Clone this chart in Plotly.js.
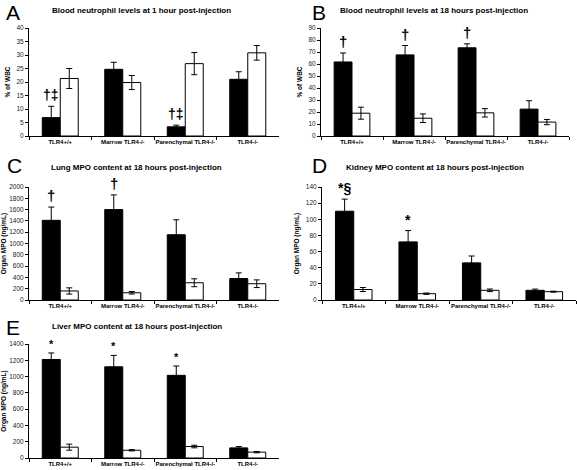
<!DOCTYPE html>
<html>
<head>
<meta charset="utf-8">
<script src="https://cdn.plot.ly/plotly-3.0.1.min.js"></script>
<style>html,body{margin:0;padding:0;background:#fff;}#chart{width:577px;height:470px;}</style>
</head>
<body>
<div id="chart"></div>
<script>
// ---- data ----
const categories = ["TLR4+/+", "Marrow TLR4-/-", "Parenchymal TLR4-/-", "TLR4-/-"];

const A_black = [6.8, 24.7, 3.4, 21.0];
const A_blackErr = [4.2, 2.6, 0.6, 2.8];
const A_white = [21.3, 19.8, 26.8, 30.8];
const A_whiteErr = [3.7, 2.6, 4.1, 2.7];
const A_marks = ["†‡", "", "†‡", ""];

const B_black = [61.7, 67.6, 73.5, 22.4];
const B_blackErr = [7.5, 7.8, 3.3, 7.0];
const B_white = [19.0, 14.8, 19.3, 11.6];
const B_whiteErr = [5.0, 3.6, 3.5, 2.2];
const B_marks = ["†", "†", "†", ""];

const C_black = [1410, 1600, 1155, 380];
const C_blackErr = [235, 260, 265, 100];
const C_white = [160, 128, 305, 288];
const C_whiteErr = [55, 22, 70, 68];
const C_marks = ["†", "†", "", ""];

const D_black = [110, 72, 46, 12];
const D_blackErr = [15, 14, 8.5, 1.5];
const D_white = [13, 7.8, 12, 10.3];
const D_whiteErr = [2.5, 0.8, 1.6, 0.6];
const D_marks = ["*§", "*", "", ""];

const E_black = [1210, 1120, 1015, 124];
const E_blackErr = [80, 140, 115, 17];
const E_white = [133, 95, 141, 72];
const E_whiteErr = [37, 8, 16, 8];
const E_marks = ["*", "*", "*", ""];

const panelLetters = ["A", "B", "C", "D", "E"];
const panelTitles = [
  "Blood neutrophil levels at 1 hour post-injection",
  "Blood neutrophil levels at 18 hours post-injection",
  "Lung MPO content at 18 hours post-injection",
  "Kidney MPO content at 18 hours post-injection",
  "Liver MPO content at 18 hours post-injection"
];
const yTitles = ["% of WBC", "% of WBC", "Organ MPO (ng/mL)", "Organ MPO (ng/mL)", "Organ MPO (ng/mL)"];
const yRanges = [[0, 40], [0, 90], [0, 2000], [0, 140], [0, 1400]];
const yDticks = [5, 10, 200, 20, 200];

// ---- build ----
const W = 577, H = 470;
const FONT = "Liberation Sans, Arial, sans-serif";
const panels = [
  {b: A_black, be: A_blackErr, w: A_white, we: A_whiteErr, m: A_marks, mk: 14},
  {b: B_black, be: B_blackErr, w: B_white, we: B_whiteErr, m: B_marks, mk: 15},
  {b: C_black, be: C_blackErr, w: C_white, we: C_whiteErr, m: C_marks, mk: 15},
  {b: D_black, be: D_blackErr, w: D_white, we: D_whiteErr, m: D_marks, mk: 14},
  {b: E_black, be: E_blackErr, w: E_white, we: E_whiteErr, m: E_marks, mk: 11}
];
// pixel boxes [x0, x1, yTop, yBottom]
const boxes = [
  [29, 279, 28, 136],
  [321, 569, 28, 136],
  [29, 279, 187, 300],
  [322, 576, 187, 300],
  [29, 279, 344, 458]
];
const letterPos = [[4, 13], [310, 12], [5, 166], [310, 166], [4, 327]];
const titlePos = [[141, 10], [434, 10], [136, 167], [435, 167], [137, 326]];

const traces = [];
const annotations = [];
const layout = {
  width: W, height: H,
  margin: {l: 0, r: 0, t: 0, b: 0},
  paper_bgcolor: "#fff", plot_bgcolor: "#fff",
  showlegend: false,
  barmode: "group", bargap: 0.424, bargroupgap: 0,
  font: {family: FONT, color: "#000"}
};

panels.forEach((p, i) => {
  const n = i === 0 ? "" : String(i + 1);
  const xa = "x" + n, ya = "y" + n;
  const bx = boxes[i];
  const errStyle = (arr) => ({type: "data", array: arr, visible: true, color: "#000", thickness: 1, width: 3});
  traces.push({
    type: "bar", x: categories, y: p.b, xaxis: xa, yaxis: ya,
    marker: {color: "#000", line: {color: "#000", width: 1}},
    error_y: errStyle(p.be), hoverinfo: "skip"
  });
  traces.push({
    type: "bar", x: categories, y: p.w, xaxis: xa, yaxis: ya,
    marker: {color: "#fff", line: {color: "#000", width: 1}},
    error_y: errStyle(p.we), hoverinfo: "skip"
  });
  layout["xaxis" + n] = {
    domain: [bx[0] / W, bx[1] / W], anchor: ya,
    showline: true, linecolor: "#000", linewidth: 1,
    ticks: "outside", ticklen: 3, tickcolor: "#000", tickson: "boundaries",
    tickangle: 0,
    showgrid: false, zeroline: false, fixedrange: true,
    tickfont: {family: FONT, size: 6, color: "#000", weight: "bold"}
  };
  layout["yaxis" + n] = {
    domain: [1 - bx[3] / H, 1 - bx[2] / H], anchor: xa,
    range: yRanges[i], dtick: yDticks[i], tick0: 0,
    showline: true, linecolor: "#000", linewidth: 1,
    ticks: "outside", ticklen: 3, tickcolor: "#000",
    showgrid: false, zeroline: false, fixedrange: true,
    tickfont: {family: FONT, size: 6.5, color: "#222"},
    title: {text: yTitles[i], font: {family: FONT, size: 6.5, color: "#000", weight: "bold"}, standoff: 5}
  };
  // significance marks
  p.m.forEach((t, k) => {
    if (!t) return;
    annotations.push({
      xref: xa, yref: ya, x: categories[k], y: p.b[k] + p.be[k],
      text: t, showarrow: false, xanchor: "center", yanchor: "bottom",
      xshift: -9, yshift: 1,
      font: {family: FONT, size: p.mk, color: "#000", weight: "bold"}
    });
  });
  annotations.push({
    xref: "paper", yref: "paper", x: letterPos[i][0] / W, y: 1 - letterPos[i][1] / H,
    xanchor: "left", yanchor: "middle", showarrow: false, text: panelLetters[i],
    font: {family: FONT, size: 21, color: "#000"}
  });
  annotations.push({
    xref: "paper", yref: "paper", x: titlePos[i][0] / W, y: 1 - titlePos[i][1] / H,
    xanchor: "center", yanchor: "middle", showarrow: false, text: panelTitles[i],
    font: {family: FONT, size: 8, color: "#000", weight: "bold"}
  });
});
layout.annotations = annotations;

Plotly.newPlot("chart", traces, layout, {staticPlot: true, displayModeBar: false});
</script>
</body>
</html>
